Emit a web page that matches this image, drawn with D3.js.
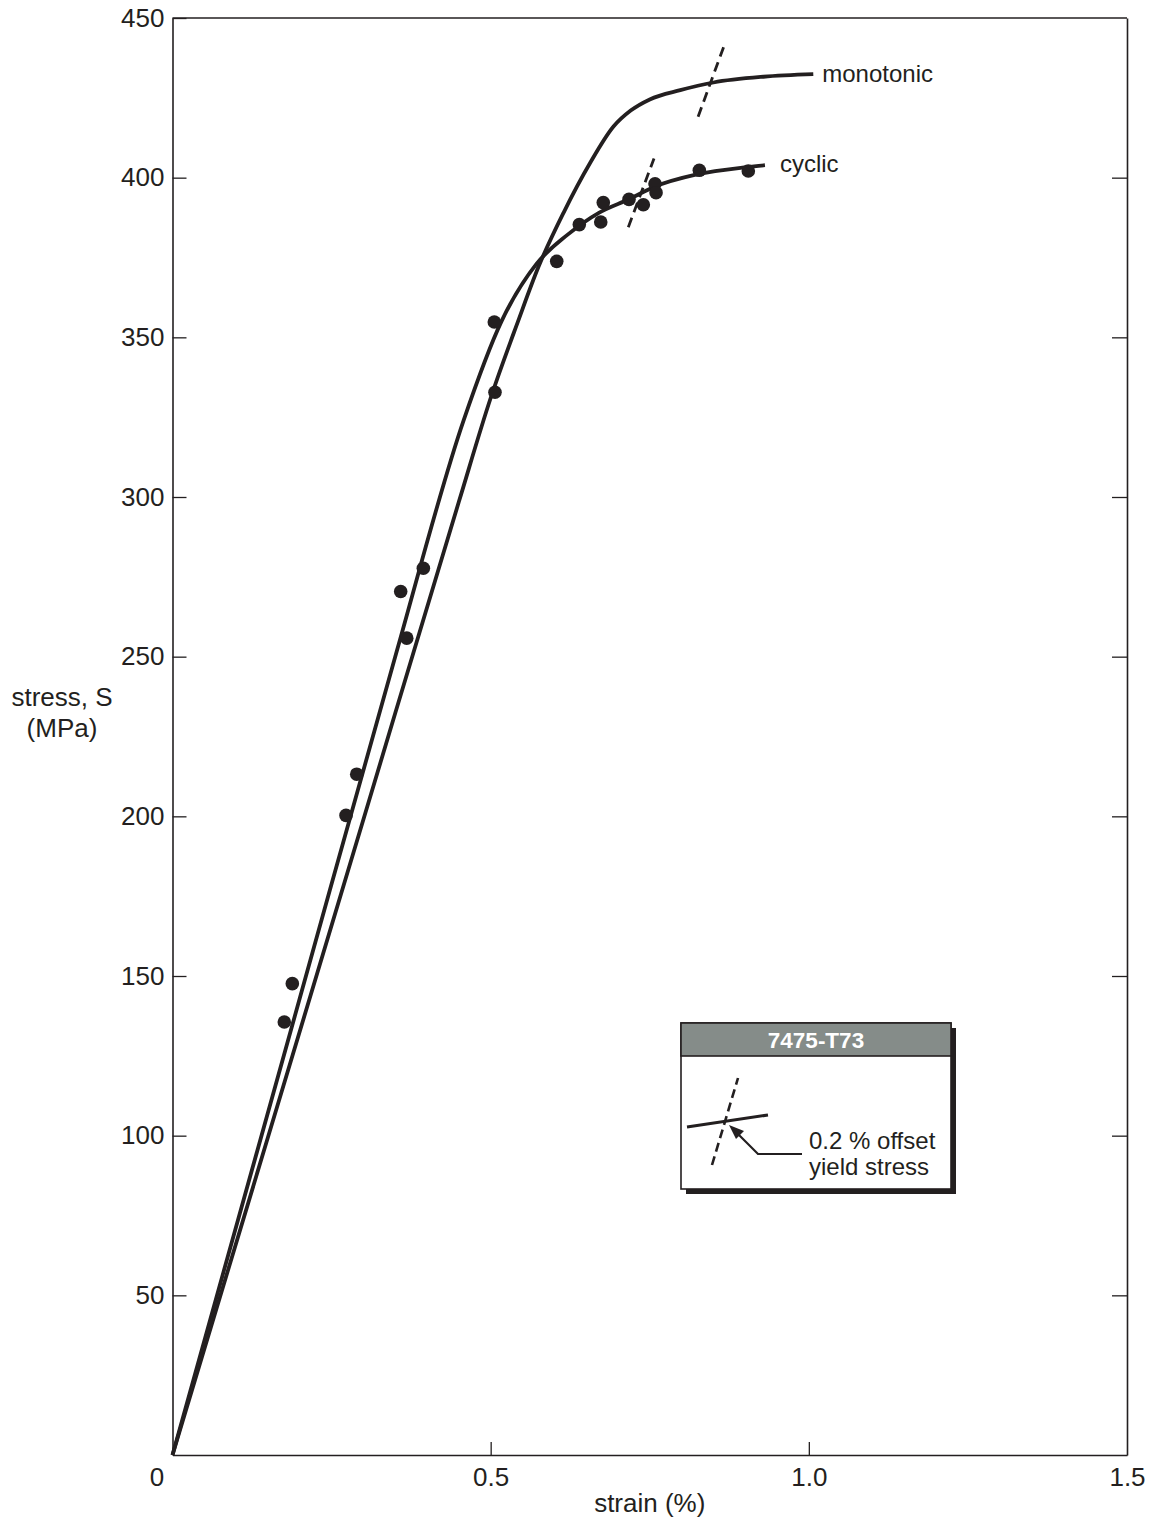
<!DOCTYPE html>
<html>
<head>
<meta charset="utf-8">
<script src="https://cdn.jsdelivr.net/npm/d3@7"></script>
<style>
  html, body { margin: 0; padding: 0; background: #fff; }
  svg text { font-family: "Liberation Sans", Arial, Helvetica, sans-serif; fill: #231f20; }
</style>
</head>
<body>
<svg id="chart" width="1162" height="1519"></svg>
<script>
// Monotonic stress-strain curve (strain %, stress MPa)
const monotonicStrain = [0, 0.30, 0.45, 0.50, 0.543, 0.575, 0.6145, 0.656, 0.693, 0.72, 0.75, 0.798, 0.85, 0.9285, 1.007];
const monotonicStress = [0, 199, 298.5, 331, 355, 372, 389, 404.5, 416, 421, 424.5, 427.4, 429.8, 431.6, 432.4];

// Cyclic stress-strain curve
const cyclicStrain = [0, 0.20, 0.35, 0.4575, 0.517, 0.572, 0.62, 0.67, 0.719, 0.7557, 0.824, 0.9025, 0.931];
const cyclicStress = [0, 143, 250, 324, 355, 373, 382, 389, 393.4, 397, 401, 403.3, 403.9];

// Cyclic test points
const pointStrain = [0.1757, 0.1883, 0.2727, 0.2895, 0.3586, 0.3681, 0.3942, 0.5057, 0.5068, 0.6038, 0.6393, 0.6730, 0.6770, 0.7174, 0.7399, 0.7583, 0.7599, 0.8279, 0.9049];
const pointStress = [135.6, 147.6, 200.3, 213.2, 270.4, 255.8, 277.7, 354.8, 332.8, 373.8, 385.3, 386.1, 392.2, 393.2, 391.5, 398.1, 395.3, 402.3, 402.1];

// 0.2 % offset yield markers (dashed segments)
const offsetMonotonic = [[0.826, 419.1], [0.867, 441.4]];
const offsetCyclic = [[0.7163, 384.5], [0.7567, 406.0]];

// Axis ticks
const xTicks = [0, 0.5, 1.0, 1.5];
const xTickLabels = ["0", "0.5", "1.0", "1.5"];
const yTicks = [50, 100, 150, 200, 250, 300, 350, 400, 450];

const curveLabels = ["monotonic", "cyclic"];
const materialName = "7475-T73";
const legendText = ["0.2 % offset", "yield stress"];

const svg = d3.select("#chart");
const margin = { left: 172.5, top: 18, right: 35, bottom: 64 };
const W = 1162 - margin.left - margin.right;
const H = 1519 - margin.top - margin.bottom;
const ink = "#231f20";

const x = d3.scaleLinear().domain([0, 1.5]).range([0, W]);
const y = d3.scaleLinear().domain([0, 450]).range([H, 0]);

const g = svg.append("g").attr("transform", `translate(${margin.left},${margin.top})`);

// Frame and axes
const axisStyle = sel => {
  sel.select(".domain").attr("stroke", ink).attr("stroke-width", 1.6);
  sel.selectAll(".tick line").attr("stroke", ink).attr("stroke-width", 1.3);
  sel.selectAll(".tick text").attr("font-size", 26).style("fill", ink);
};

g.append("g")
  .call(d3.axisLeft(y).tickValues(yTicks).tickSize(-14).tickPadding(8).tickSizeOuter(0))
  .call(axisStyle);

g.append("g")
  .attr("transform", `translate(${W},0)`)
  .call(d3.axisRight(y).tickValues(yTicks.slice(0, -1)).tickSize(-15).tickFormat("").tickSizeOuter(0))
  .call(axisStyle);

const xAxis = g.append("g")
  .attr("transform", `translate(0,${H})`)
  .call(d3.axisBottom(x).tickValues(xTicks).tickSize(-13).tickPadding(13)
    .tickFormat((d, i) => xTickLabels[i]).tickSizeOuter(0))
  .call(axisStyle);
xAxis.selectAll(".tick text").filter(d => d === 0).attr("dx", -16);
xAxis.selectAll(".tick line").filter(d => d === 0 || d === 1.5).remove();

g.append("line")
  .attr("x1", 0).attr("x2", W).attr("y1", 0).attr("y2", 0)
  .attr("stroke", ink).attr("stroke-width", 1.6);

// Axis titles
g.append("text")
  .attr("x", x(0.75)).attr("y", H + 57)
  .attr("text-anchor", "middle").attr("font-size", 26)
  .text("strain (%)");

const yTitle = g.append("text")
  .attr("text-anchor", "middle").attr("font-size", 26)
  .attr("transform", `translate(${62 - margin.left},${y(234.5)})`);
yTitle.append("tspan").attr("x", 0).attr("dy", 0).text("stress, S");
yTitle.append("tspan").attr("x", 0).attr("dy", 31).text("(MPa)");

// Curves
const line = d3.line().x(d => x(d[0])).y(d => y(d[1])).curve(d3.curveMonotoneX);
const monotonic = monotonicStrain.map((s, i) => [s, monotonicStress[i]]);
const cyclic = cyclicStrain.map((s, i) => [s, cyclicStress[i]]);

[monotonic, cyclic].forEach(data => {
  g.append("path")
    .datum(data)
    .attr("d", line)
    .attr("fill", "none")
    .attr("stroke", ink)
    .attr("stroke-width", 3.8)
    .attr("stroke-linejoin", "round");
});

// Offset yield markers
[offsetMonotonic, offsetCyclic].forEach(seg => {
  g.append("line")
    .attr("x1", x(seg[0][0])).attr("y1", y(seg[0][1]))
    .attr("x2", x(seg[1][0])).attr("y2", y(seg[1][1]))
    .attr("stroke", ink).attr("stroke-width", 2.8)
    .attr("stroke-dasharray", "10,6");
});

// Data points
g.selectAll("circle.pt")
  .data(pointStrain.map((s, i) => [s, pointStress[i]]))
  .join("circle")
  .attr("class", "pt")
  .attr("cx", d => x(d[0]))
  .attr("cy", d => y(d[1]))
  .attr("r", 6.8)
  .attr("fill", ink);

// Curve labels
const lastMono = monotonic[monotonic.length - 1];
const lastCyc = cyclic[cyclic.length - 1];
g.append("text")
  .attr("x", x(lastMono[0]) + 9).attr("y", y(lastMono[1]) + 8)
  .attr("font-size", 24).text(curveLabels[0]);
g.append("text")
  .attr("x", x(lastCyc[0]) + 15).attr("y", y(lastCyc[1]) + 7)
  .attr("font-size", 24).text(curveLabels[1]);

// Legend box
const lg = svg.append("g").attr("transform", "translate(681,1023)");
const lw = 270, lh = 166, hh = 33;
lg.append("rect").attr("x", 5).attr("y", 5).attr("width", lw).attr("height", lh).attr("fill", ink);
lg.append("rect").attr("x", 0).attr("y", 0).attr("width", lw).attr("height", lh)
  .attr("fill", "#fff").attr("stroke", ink).attr("stroke-width", 1.6);
lg.append("rect").attr("x", 0).attr("y", 0).attr("width", lw).attr("height", hh)
  .attr("fill", "#858c89").attr("stroke", ink).attr("stroke-width", 1.6);
lg.append("text")
  .attr("x", lw / 2).attr("y", 25)
  .attr("text-anchor", "middle").attr("font-size", 22.5).attr("font-weight", "bold")
  .style("fill", "#fff").text(materialName);

lg.append("line").attr("x1", 6).attr("y1", 104).attr("x2", 87).attr("y2", 92)
  .attr("stroke", ink).attr("stroke-width", 3);
lg.append("line").attr("x1", 31).attr("y1", 142).attr("x2", 57).attr("y2", 55)
  .attr("stroke", ink).attr("stroke-width", 2.6).attr("stroke-dasharray", "9,5");

lg.append("path")
  .attr("d", "M121,131 H77 L53,107")
  .attr("fill", "none").attr("stroke", ink).attr("stroke-width", 2.2);
lg.append("path")
  .attr("d", "M48,102 L63,108 L55,116 Z")
  .attr("fill", ink);

const lt = lg.append("text").attr("font-size", 24);
lt.append("tspan").attr("x", 128).attr("y", 126).text(legendText[0]);
lt.append("tspan").attr("x", 128).attr("y", 152).text(legendText[1]);
</script>
</body>
</html>
